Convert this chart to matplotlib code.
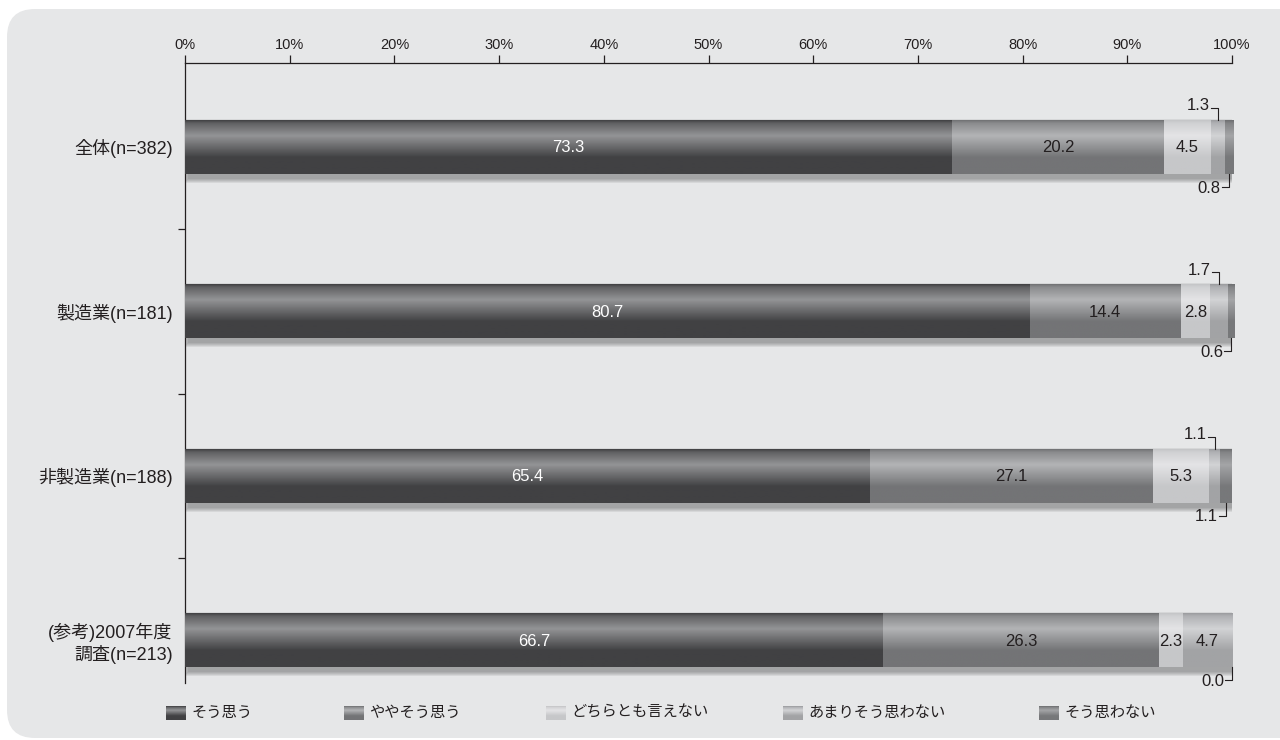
import numpy as np
import matplotlib
matplotlib.use("Agg")
import matplotlib.pyplot as plt
from matplotlib.patches import FancyBboxPatch, Rectangle

plt.rcParams['font.family'] = ['Liberation Sans', 'Noto Sans CJK JP', 'DejaVu Sans']

# survey answers (percent)
groups = ['全体(n=382)', '製造業(n=181)', '非製造業(n=188)', '(参考)2007年度\n調査(n=213)']
answers = ['そう思う', 'ややそう思う', 'どちらとも言えない', 'あまりそう思わない', 'そう思わない']
agree = [73.3, 80.7, 65.4, 66.7]
somewhat_agree = [20.2, 14.4, 27.1, 26.3]
neutral = [4.5, 2.8, 5.3, 2.3]
somewhat_disagree = [1.3, 1.7, 1.1, 4.7]
disagree = [0.8, 0.6, 1.1, 0.0]
series = [agree, somewhat_agree, neutral, somewhat_disagree, disagree]

# (top edge, highlight, bottom) shades for the cylinder look
shades = [
    ('#38383a', '#939496', '#414143'),
    ('#6a6b6d', '#b3b4b6', '#737476'),
    ('#c1c2c4', '#e4e4e6', '#c6c7c9'),
    ('#95969a', '#d2d3d5', '#a2a3a5'),
    ('#68696b', '#a4a5a7', '#77787a'),
]
text_colors = ['white', '#231f20', '#231f20', '#231f20', '#231f20']
dark = '#231f20'


def gradient(shade, n=64):
    top, hi, bot = [np.array(matplotlib.colors.to_rgb(c)) for c in shade]
    stops = [0.0, 0.07, 0.30, 0.70, 1.0]
    cols = np.array([top, 0.55 * top + 0.45 * hi, hi, bot, bot])
    t = np.linspace(0, 1, n)
    img = np.stack([np.interp(t, stops, cols[:, k]) for k in range(3)], axis=1)
    return img[:, None, :]


def shaded_rect(ax, patch, x0, x1, y_top, y_bot, shade, z):
    im = ax.imshow(gradient(shade), extent=(x0, x1, y_bot, y_top), origin='upper',
                   aspect='auto', interpolation='bilinear', zorder=z)
    im.set_clip_path(patch)


fig = plt.figure(figsize=(12.8, 7.4), dpi=100, facecolor='white')

# background panel + legend, in pixel coordinates
bg = fig.add_axes([0, 0, 1, 1], zorder=-1)
bg.set_xlim(0, 1280)
bg.set_ylim(740, 0)
bg.axis('off')
bg.add_patch(FancyBboxPatch((7, 9), 1320, 729, boxstyle='round,pad=0,rounding_size=28',
                            facecolor='#e6e7e8', edgecolor='none'))

leg_x = [166, 344, 546, 783, 1039]
for i, name in enumerate(answers):
    sq = Rectangle((leg_x[i], 706), 20, 14, facecolor=shades[i][1], edgecolor='none', zorder=2)
    bg.add_patch(sq)
    shaded_rect(bg, sq, leg_x[i], leg_x[i] + 20, 706, 720, shades[i], 3)
    bg.text(leg_x[i] + 25, 713, name, fontsize=11, color=dark, ha='left', va='center')
bg.set_xlim(0, 1280)
bg.set_ylim(740, 0)

ax = fig.add_axes([185 / 1280, 1 - 683 / 740, 1047 / 1280, 620 / 740])
ax.set_facecolor('none')

ypos = np.arange(len(groups))
h = 0.33
px_x = 100 / 1047.0
px_y = 3.77 / 620.0

lefts = np.zeros(len(groups))
totals = np.sum(series, axis=0)

# drop shadow behind each bar
for r in range(len(groups)):
    for e in [5, 4, 3, 2, 1]:
        ax.add_patch(Rectangle((4 * px_x - e * px_x, ypos[r] - h / 2 + 4 * px_y - e * px_y),
                               totals[r] + 2 * e * px_x, h + 2 * e * px_y,
                               facecolor='#3a3a3a', edgecolor='none', alpha=0.09, zorder=1))

for i, vals in enumerate(series):
    bars = ax.barh(ypos, vals, height=h, left=lefts, color=shades[i][1], edgecolor='none', zorder=2)
    for r, bar in enumerate(bars):
        x0 = lefts[r]
        w = vals[r]
        yc = ypos[r]
        if w > 0:
            shaded_rect(ax, bar, x0, x0 + w, yc - h / 2, yc + h / 2, shades[i], 3)
        xc = x0 + w / 2
        if w >= 2.0:
            ax.text(xc, yc + 0.005, f'{w:.1f}', ha='center', va='center', fontsize=12,
                    color=text_colors[i], zorder=5)
        elif i == 3:
            ye = yc - h / 2
            yl = ye - 12 * px_y
            ax.plot([xc, xc, xc - 7 * px_x], [ye, yl, yl], color=dark, lw=0.8, zorder=5, clip_on=False)
            ax.text(xc - 8 * px_x, yl - 2 * px_y, f'{w:.1f}', ha='right', va='center', fontsize=12,
                    color=dark, zorder=5)
        else:
            ye = yc + h / 2
            yl = ye + 13 * px_y
            ax.plot([xc, xc, xc - 7 * px_x], [ye, yl, yl], color=dark, lw=0.8, zorder=5, clip_on=False)
            ax.text(xc - 8 * px_x, yl + 1 * px_y, f'{w:.1f}', ha='right', va='center', fontsize=12,
                    color=dark, zorder=5)
    lefts = lefts + np.array(vals)

ax.set_xlim(0, 100)
ax.set_ylim(3.26, -0.51)

for s in ['right', 'bottom']:
    ax.spines[s].set_visible(False)
for s in ['top', 'left']:
    ax.spines[s].set_color(dark)
    ax.spines[s].set_linewidth(0.9)

ax.xaxis.set_ticks_position('top')
ax.set_xticks(np.arange(0, 101, 10))
ax.set_xticklabels([f'{v}%' for v in range(0, 101, 10)])
ax.tick_params(axis='x', direction='out', length=6, width=0.9, color=dark, pad=2,
               labelsize=10.5, labelcolor=dark)

ax.set_yticks(ypos)
ax.set_yticklabels(groups, fontsize=13, color=dark, multialignment='right', linespacing=1.2)
ax.set_yticks([0.5, 1.5, 2.5], minor=True)
ax.tick_params(axis='y', which='major', length=0, pad=9)
ax.tick_params(axis='y', which='minor', direction='out', length=5, width=0.9, color=dark)

fig.savefig('out.png', dpi=100, facecolor='white')
